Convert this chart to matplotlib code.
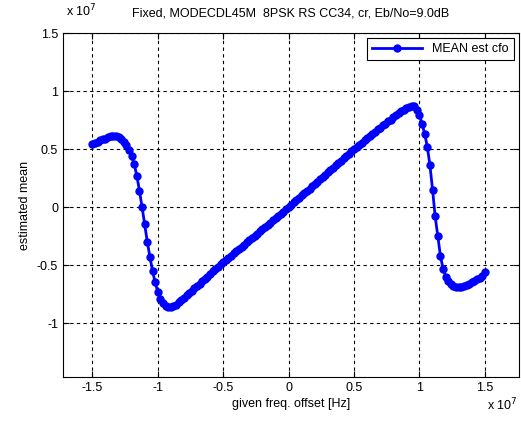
import numpy as np
import matplotlib.pyplot as plt

plt.rcParams['font.family'] = ['Liberation Sans', 'DejaVu Sans']

# frequency sweep (units of 1e7 Hz), 0.02 step from -1.5 to 1.5
freq_offset = np.linspace(-1.5, 1.5, 151)

# estimated mean (units of 1e7)
est_mean = [
    0.54, 0.555, 0.565, 0.575, 0.585, 0.59, 0.60, 0.61, 0.615, 0.61,
    0.60, 0.585, 0.565, 0.535, 0.495, 0.44, 0.37, 0.27, 0.14, 0.00,
    -0.15, -0.30, -0.43, -0.55, -0.65, -0.73, -0.79, -0.83, -0.85, -0.86,
    -0.86, -0.85, -0.84, -0.82, -0.80, -0.78, -0.76, -0.74, -0.72, -0.70,
    -0.68, -0.66, -0.64, -0.62, -0.60, -0.58, -0.555, -0.535, -0.515, -0.495,
    -0.475, -0.455, -0.435, -0.42, -0.40, -0.38, -0.36, -0.345, -0.325, -0.305,
    -0.285, -0.265, -0.25, -0.23, -0.21, -0.19, -0.17, -0.155, -0.135, -0.115,
    -0.095, -0.075, -0.06, -0.04, -0.02, 0.0, 0.02, 0.04, 0.06, 0.08,
    0.10, 0.12, 0.14, 0.16, 0.18, 0.20, 0.22, 0.24, 0.26, 0.28,
    0.30, 0.32, 0.34, 0.36, 0.38, 0.40, 0.42, 0.44, 0.46, 0.48,
    0.50, 0.515, 0.535, 0.555, 0.575, 0.595, 0.61, 0.63, 0.65, 0.67,
    0.685, 0.705, 0.72, 0.74, 0.755, 0.775, 0.79, 0.81, 0.825, 0.84,
    0.855, 0.865, 0.875, 0.87, 0.84, 0.79, 0.72, 0.63, 0.52, 0.36,
    0.15, -0.08, -0.25, -0.42, -0.53, -0.60, -0.64, -0.66, -0.68, -0.69,
    -0.69, -0.685, -0.68, -0.67, -0.66, -0.65, -0.64, -0.62, -0.61, -0.59,
    -0.56,
]

x_ticks = [-1.5, -1, -0.5, 0, 0.5, 1, 1.5]
x_ticklabels = ['-1.5', '-1', '-0.5', '0', '0.5', '1', '1.5']
y_ticks = [-1, -0.5, 0, 0.5, 1, 1.5]
y_ticklabels = ['-1', '-0.5', '0', '0.5', '1', '1.5']

fig = plt.figure(figsize=(5.21, 4.22), dpi=100)
ax = fig.add_axes([0.121, 0.1066, 0.875, 0.815])

ax.plot(freq_offset, est_mean, color='blue', linewidth=2, marker='o',
        markersize=5, markerfacecolor='blue', markeredgecolor='blue',
        label='MEAN est cfo')

ax.set_xlim(-1.724, 1.76)
ax.set_ylim(-1.465, 1.5)
ax.set_xticks(x_ticks)
ax.set_xticklabels(x_ticklabels)
ax.set_yticks(y_ticks)
ax.set_yticklabels(y_ticklabels)
ax.tick_params(direction='in', top=True, right=True, labelsize=9, length=4)
ax.grid(True, color='black', linestyle=(0, (3, 3)), linewidth=0.8)
for sp in ax.spines.values():
    sp.set_linewidth(0.8)

ax.set_title('Fixed, MODECDL45M  8PSK RS CC34, cr, Eb/No=9.0dB', fontsize=9, pad=12)
ax.set_xlabel('given freq. offset [Hz]', fontsize=9, labelpad=3)
ax.set_ylabel('estimated mean', fontsize=9, labelpad=4)

# MATLAB-style exponent labels
fig.text(0.126, 0.955, r'x 10$^7$', fontsize=9, ha='left', va='bottom')
fig.text(0.935, 0.02, r'x 10$^7$', fontsize=9, ha='left', va='bottom')

leg = ax.legend(loc='upper right', fontsize=9, fancybox=False, framealpha=1,
                edgecolor='black', borderaxespad=0.4, handlelength=4)
leg.get_frame().set_linewidth(0.8)

plt.savefig('out.png', dpi=100, facecolor='white')
plt.close()
